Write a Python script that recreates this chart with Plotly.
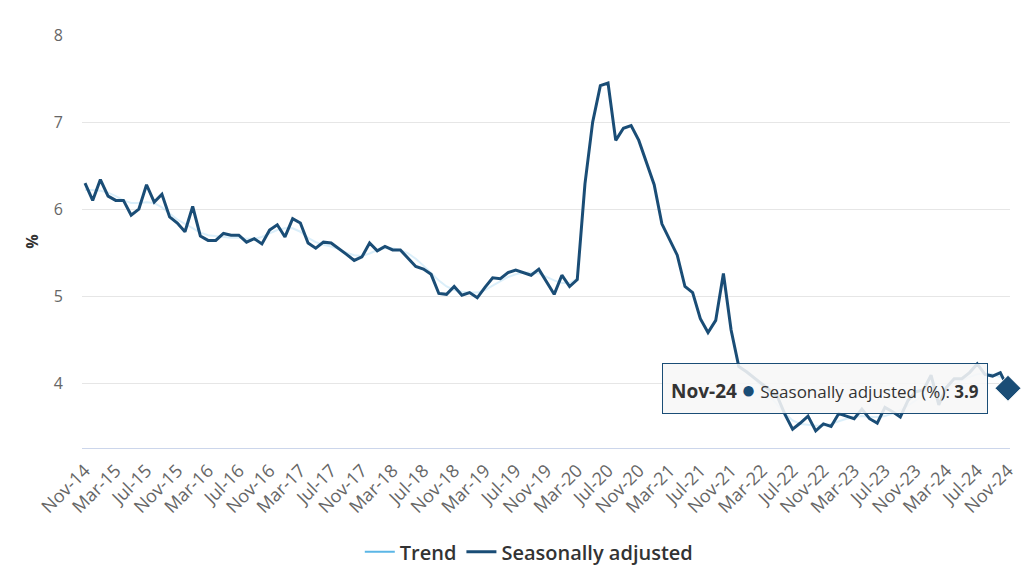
import plotly.graph_objects as go
import pandas as pd

months = [d.strftime("%b-%y") for d in pd.date_range("2014-11-01", "2024-11-01", freq="MS")]

seasonally_adjusted = [
    6.30, 6.10, 6.34, 6.15, 6.10, 6.10, 5.93, 6.00, 6.28, 6.08, 6.17, 5.91,
    5.84, 5.74, 6.03, 5.69, 5.64, 5.64, 5.72, 5.70, 5.70, 5.62, 5.66, 5.60,
    5.76, 5.82, 5.68, 5.89, 5.84, 5.61, 5.55, 5.62, 5.61, 5.55, 5.48, 5.41,
    5.45, 5.61, 5.52, 5.57, 5.53, 5.53, 5.43, 5.34, 5.31, 5.25, 5.03, 5.02,
    5.11, 5.01, 5.04, 4.98, 5.10, 5.21, 5.20, 5.27, 5.30, 5.27, 5.24, 5.31,
    5.16, 5.02, 5.24, 5.11, 5.19, 6.29, 7.00, 7.42, 7.45, 6.79, 6.93, 6.96,
    6.79, 6.54, 6.28, 5.83, 5.64, 5.47, 5.11, 5.04, 4.74, 4.58, 4.72, 5.26,
    4.61, 4.19, 4.13, 4.06, 3.98, 3.92, 3.85, 3.64, 3.47, 3.54, 3.62, 3.45,
    3.53, 3.50, 3.65, 3.62, 3.59, 3.70, 3.59, 3.54, 3.72, 3.67, 3.61, 3.80,
    3.90, 3.92, 4.09, 3.75, 3.95, 4.05, 4.05, 4.12, 4.22, 4.10, 4.08, 4.12,
    3.94,
]

trend = [
    6.22, 6.22, 6.21, 6.19, 6.15, 6.10, 6.07, 6.07, 6.08, 6.07, 6.02, 5.95,
    5.88, 5.83, 5.78, 5.73, 5.70, 5.69, 5.68, 5.67, 5.67, 5.66, 5.66, 5.68,
    5.72, 5.76, 5.78, 5.78, 5.74, 5.67, 5.62, 5.59, 5.57, 5.54, 5.50, 5.47,
    5.46, 5.49, 5.53, 5.55, 5.55, 5.53, 5.49, 5.43, 5.35, 5.26, 5.18, 5.11,
    5.07, 5.05, 5.04, 5.04, 5.07, 5.12, 5.17, 5.22, 5.25, 5.27, 5.27, 5.26,
    5.22, 5.18, 5.15, 5.15, 5.20,
    None, None, None, None, None, None, None, None, None, None, None, None,
    None, None, None, None, None, None, None, None, None,
    4.15, 4.05, 3.95, 3.85, 3.75, 3.65, 3.57, 3.53, 3.52, 3.51,
    3.51, 3.53, 3.56, 3.59, 3.61, 3.62, 3.61, 3.61, 3.62, 3.65,
    3.69, 3.74, 3.80, 3.86, 3.90, 3.92, 3.95, 3.99, 4.03, 4.07,
    4.10, 4.11, 4.10, 4.07, 4.03,
]

x_tick_labels = months[::4]
y_ticks = [4, 5, 6, 7, 8]

TREND_COLOR = "#5bb6e6"
SA_COLOR = "#1a4d76"
FONT = "Open Sans"

fig = go.Figure()

# faint (inactive) trend line
fig.add_trace(go.Scatter(
    x=months, y=trend, mode="lines", name="Trend",
    line=dict(color="rgba(91,182,230,0.22)", width=2),
    showlegend=False, hoverinfo="skip", connectgaps=False,
))
# legend entry in full colour
fig.add_trace(go.Scatter(
    x=[None], y=[None], mode="lines", name="Trend",
    line=dict(color=TREND_COLOR, width=2),
))
fig.add_trace(go.Scatter(
    x=months, y=seasonally_adjusted, mode="lines", name="Seasonally adjusted",
    line=dict(color=SA_COLOR, width=3),
))
# hovered point marker
fig.add_trace(go.Scatter(
    x=months[-1:], y=seasonally_adjusted[-1:], mode="markers",
    marker=dict(symbol="diamond", size=20, color=SA_COLOR,
                line=dict(color="#ffffff", width=1)),
    showlegend=False, hoverinfo="skip", cliponaxis=False,
))

fig.add_annotation(
    x=months[-1], y=seasonally_adjusted[-1], xref="x", yref="y",
    xanchor="right", yanchor="middle", xshift=-20, yshift=0,
    showarrow=False,
    text=(f"<span style='font-size:19px'><b>{months[-1]}</b></span> "
          f"<span style='color:{SA_COLOR};font-size:24px'>●</span> "
          f"Seasonally adjusted (%): <b>{seasonally_adjusted[-1]:.1f}</b>"),
    font=dict(family=FONT, size=17, color="#333333"),
    bgcolor="rgba(247,247,247,0.88)",
    bordercolor=SA_COLOR, borderwidth=1, borderpad=8,
    align="left",
)

fig.update_layout(
    width=1024, height=567,
    paper_bgcolor="white", plot_bgcolor="white",
    margin=dict(l=82, r=14, t=35, b=119),
    font=dict(family=FONT, color="#666666"),
    showlegend=True,
    legend=dict(
        orientation="h", x=0.482, xanchor="center",
        yref="container", y=0.027, yanchor="middle",
        font=dict(family=FONT, size=20, color="#333333", weight=600),
        itemwidth=30, traceorder="normal",
    ),
    hovermode=False,
)

fig.update_xaxes(
    type="category", range=[-0.39, 120.26], automargin=False,
    tickmode="array", tickvals=x_tick_labels, ticktext=x_tick_labels,
    tickangle=-45, tickfont=dict(family=FONT, size=18, color="#666666"),
    showgrid=False, showline=True, linecolor="#ccd6eb", linewidth=1,
    ticks="", ticklabelstandoff=4,
)
fig.update_yaxes(
    range=[3.253, 8.002], tickvals=y_ticks, automargin=False,
    tickfont=dict(family=FONT, size=16, color="#666666"),
    showgrid=True, gridcolor="#e6e6e6", gridwidth=1,
    zeroline=False, showline=False, ticks="", ticklabelstandoff=18,
    title=dict(text="%", font=dict(family=FONT, size=16, color="#333333", weight="bold"),
               standoff=11),
)

fig.write_html("out.html", config={"displayModeBar": False},
               post_script="document.body.style.margin='0';")
